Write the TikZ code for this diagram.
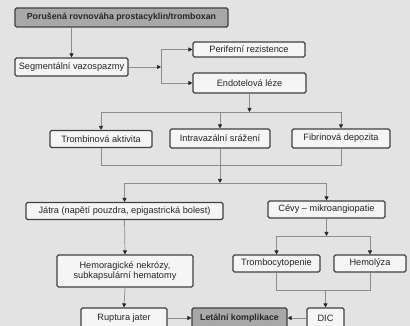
\documentclass[tikz,border=0pt]{standalone}
\usepackage{fontspec}
\setmainfont{Liberation Sans}
\usetikzlibrary{arrows.meta}
\definecolor{pagebg}{gray}{0.89}
\definecolor{boxfill}{gray}{0.96}
\definecolor{boxline}{gray}{0.25}
\definecolor{wire}{gray}{0.55}
\definecolor{darkfill}{gray}{0.66}
\begin{document}
\begin{tikzpicture}[x=1pt,y=-1pt,>={Triangle[length=4pt,width=4pt,color=black!85]}]
\tikzstyle{block} = [rectangle, draw=boxline, fill=boxfill, line width=1.1pt, rounded corners=1.5pt, inner sep=1pt, text=black!85, font=\fontsize{9.2}{10.6}\selectfont]
\tikzstyle{dark} = [block, fill=darkfill, font=\fontsize{8.8}{10}\selectfont\bfseries]
\tikzstyle{wire} = [draw=wire, line width=0.7pt]

\useasboundingbox (0,0) rectangle (410,326);
\fill[pagebg] (0,0) rectangle (410,326);

\node at (121.5,17.5) [dark, minimum width=213pt, minimum height=19pt] (top) {Porušená rovnováha prostacyklin/tromboxan};
\node at (71.5,67) [block, minimum width=113pt, minimum height=18pt] (seg) {Segmentální vazospazmy};
\node at (249,49.5) [block, minimum width=112pt, minimum height=15pt] (per) {Periferní rezistence};
\node at (249.5,83) [block, minimum width=113pt, minimum height=20pt] (endo) {Endotelová léze};

\draw[wire,->] (seg.north |- top.south) -- (seg.north);
\coordinate (j1) at (161,67);
\draw[wire,->] (seg.east) -- (j1);
\draw[wire,->] (j1) |- (per.west);
\draw[wire,->] (j1) |- (endo.west);

% tri priciny
\node at (101,139) [block, minimum width=102pt, minimum height=17pt] (trom) {Trombinová aktivita};
\node at (220,138.5) [block, minimum width=100pt, minimum height=19pt] (intra) {Intravazální srážení};
\node at (341,138.5) [block, minimum width=98pt, minimum height=19pt] (fib) {Fibrinová depozita};

\coordinate (j2) at (249.5,112);
\draw[wire,->] (endo.south) -- (j2);
\draw[wire,->] (j2) -| (trom.north);
\draw[wire,->] (j2) -| (intra.north);
\draw[wire,->] (j2) -| (fib.north);

\node at (124.5,211) [block, minimum width=197pt, minimum height=17pt] (jat) {Játra (napětí pouzdra, epigastrická bolest)};
\node at (326.5,209.5) [block, minimum width=117pt, minimum height=17pt] (cev) {Cévy -- mikroangiopatie};

\coordinate (j3) at (220,165);
\coordinate (j4) at (220,183);
\draw[wire] (trom.south) |- (j3);
\draw[wire] (fib.south) |- (j3);
\draw[wire,->] (intra.south) -- (j4);
\draw[wire,->] (j4) -| (jat.north);
\draw[wire,->] (j4) -| (cev.north);

\node at (125,271) [block, minimum width=136pt, minimum height=32pt, align=center] (hem) {Hemoragické nekrózy,\\subkapsulární hematomy};
\node at (276.5,263.5) [block, minimum width=87pt, minimum height=17pt] (tb) {Trombocytopenie};
\node at (370,263.5) [block, minimum width=72pt, minimum height=17pt] (hl) {Hemolýza};

\draw[wire,->] (jat.south) -- (hem.north);
\coordinate (j5) at (326.5,236);
\draw[wire,->] (cev.south) -- (j5);
\draw[wire,->] (j5) -| (tb.north);
\draw[wire,->] (j5) -| (hl.north);

\node at (124,318) [block, minimum width=86pt, minimum height=20pt] (rup) {Ruptura jater};
\node at (239.5,318) [dark, minimum width=95pt, minimum height=20pt] (let) {Letální komplikace};
\node at (325.5,318) [block, minimum width=37pt, minimum height=20pt] (dic) {DIC};

\coordinate (j6) at (325.5,290);
\draw[wire] (tb.south) |- (j6);
\draw[wire] (hl.south) |- (j6);
\draw[wire,->] (j6) -- (dic.north);
\draw[wire,->] (hem.south) -- (rup.north);
\draw[wire,->] (rup.east) -- (let.west);
\draw[wire,->] (dic.west) -- (let.east);

\end{tikzpicture}
\end{document}
